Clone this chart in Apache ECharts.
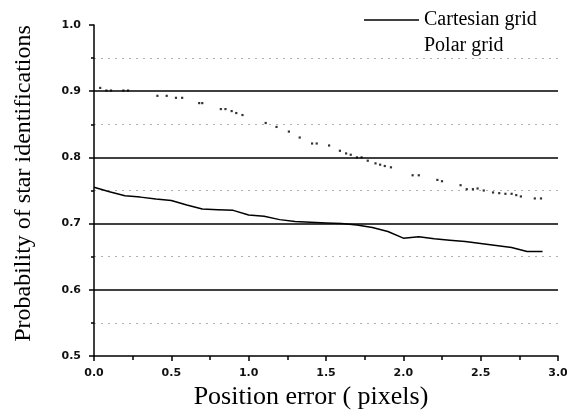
<!DOCTYPE html>
<html>
<head>
<meta charset="utf-8">
<script src="https://cdn.jsdelivr.net/npm/echarts@6/dist/echarts.min.js"></script>
<style>
html,body{margin:0;padding:0;background:#fff;}
#c{width:567px;height:411px;}
</style>
</head>
<body>
<div id="c"></div>
<script>
var cartX = [0.0,0.1,0.2,0.3,0.4,0.5,0.6,0.7,0.8,0.9,1.0,1.1,1.2,1.3,1.4,1.5,1.6,1.7,1.8,1.9,2.0,2.1,2.2,2.3,2.4,2.5,2.6,2.7,2.8,2.9];
var cartY = [0.755,0.748,0.742,0.740,0.737,0.735,0.728,0.722,0.721,0.720,0.713,0.711,0.706,0.703,0.702,0.701,0.700,0.698,0.694,0.688,0.678,0.680,0.677,0.675,0.673,0.670,0.667,0.664,0.658,0.658];
var polarX = [0.04,0.08,0.11,0.19,0.22,0.41,0.47,0.53,0.57,0.68,0.70,0.82,0.85,0.89,0.92,0.96,1.11,1.18,1.26,1.33,1.41,1.44,1.52,1.59,1.63,1.66,1.70,1.73,1.77,1.82,1.85,1.88,1.92,2.06,2.10,2.22,2.25,2.37,2.41,2.45,2.48,2.52,2.58,2.62,2.66,2.70,2.73,2.76,2.85,2.89];
var polarY = [0.905,0.901,0.901,0.901,0.901,0.893,0.893,0.890,0.890,0.882,0.882,0.873,0.873,0.870,0.867,0.864,0.852,0.846,0.839,0.830,0.821,0.821,0.818,0.810,0.806,0.804,0.800,0.800,0.795,0.791,0.789,0.787,0.785,0.773,0.773,0.766,0.764,0.758,0.752,0.752,0.753,0.750,0.747,0.746,0.745,0.745,0.743,0.741,0.738,0.738];
var seriesNames = ['Cartesian grid','Polar grid'];
var xTitle = 'Position error ( pixels)';
var yTitle = 'Probability of star identifications';

function zip(a,b){var r=[];for(var i=0;i<a.length;i++){r.push([a[i],b[i]]);}return r;}

var chart = echarts.init(document.getElementById('c'), null, {renderer:'canvas'});
var serif = '"Liberation Serif","DejaVu Serif",serif';
var lab = {fontFamily:'"DejaVu Sans","Liberation Sans",sans-serif', fontWeight:'bold', fontSize:11, color:'#111'};
chart.setOption({
  animation:false,
  backgroundColor:'#fff',
  grid:{left:94, top:25, right:9, bottom:55, containLabel:false, outerBoundsMode:'none'},
  legend:{
    orient:'vertical', left:359, top:5, itemWidth:55, itemHeight:14, itemGap:6,
    textStyle:{fontFamily:serif, fontSize:20, color:'#000'},
    data:[{name:seriesNames[0], icon:'path://M0,0L100,0L100,3L0,3Z'},{name:seriesNames[1], icon:'none'}]
  },
  xAxis:{
    type:'value', min:0, max:3, interval:0.5,
    name:xTitle, nameLocation:'middle', nameGap:25,
    nameTextStyle:{fontFamily:serif, fontSize:26, color:'#000', padding:[0,30,0,0]},
    axisLine:{show:true, lineStyle:{color:'#000', width:1.5}},
    axisTick:{show:true, inside:false, length:5, lineStyle:{color:'#000', width:1.5}},
    minorTick:{show:true, splitNumber:2, length:4, lineStyle:{color:'#000', width:1.5}},
    axisLabel:Object.assign({margin:12, formatter:function(v){return v.toFixed(1);}}, lab),
    splitLine:{show:false}
  },
  yAxis:{
    type:'value', min:0.5, max:1.0, interval:0.1,
    name:yTitle, nameLocation:'middle', nameGap:58,
    nameTextStyle:{fontFamily:serif, fontSize:24, color:'#000', padding:[0,0,0,14]},
    axisLine:{show:true, lineStyle:{color:'#000', width:1.5}},
    axisTick:{show:true, inside:false, length:5, lineStyle:{color:'#000', width:1.5}},
    minorTick:{show:true, splitNumber:2, length:3, lineStyle:{color:'#000', width:1.5}},
    axisLabel:Object.assign({margin:13, formatter:function(v){return v.toFixed(1);}}, lab),
    splitLine:{show:true, showMinLine:false, showMaxLine:false, lineStyle:{color:'#000', width:1.5}},
    minorSplitLine:{show:true, lineStyle:{color:'#b0b0b0', width:1, type:[2,5]}}
  },
  series:[
    {name:seriesNames[0], type:'line', data:zip(cartX,cartY), symbol:'none',
     lineStyle:{color:'#000', width:1.5}, itemStyle:{color:'#000'}},
    {name:seriesNames[1], type:'scatter', data:zip(polarX,polarY), symbol:'rect', symbolSize:2.2,
     itemStyle:{color:'#000'}}
  ]
});
</script>
</body>
</html>
